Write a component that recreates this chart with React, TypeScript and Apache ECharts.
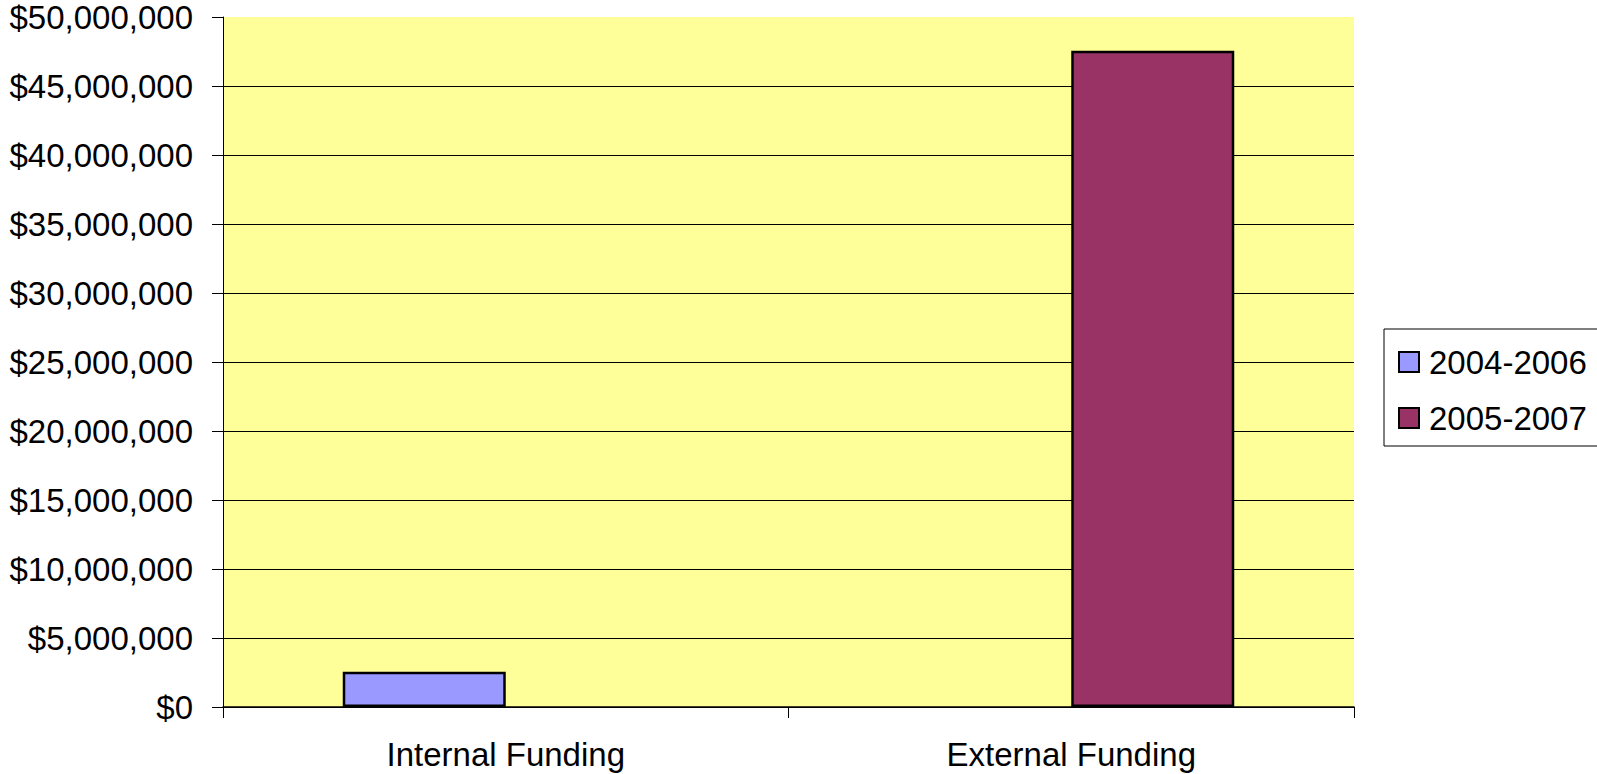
import React, { useEffect, useRef } from "react";
import * as echarts from "echarts";

const categories = ["Internal Funding", "External Funding"];
const seriesNames = ["2004-2006", "2005-2007"];
const values2004_2006 = [2550000, null];
const values2005_2007 = [null, 47550000];
const seriesColors = ["#9999FF", "#993366"];

const FONT = "'Liberation Sans', Arial, sans-serif";

export default function App() {
  const ref = useRef<HTMLDivElement>(null);

  useEffect(() => {
    if (!ref.current) return;
    const chart = echarts.init(ref.current, null, { renderer: "svg" });
    const seriesData = [values2004_2006, values2005_2007];
    chart.setOption({
      animation: false,
      backgroundColor: "#ffffff",
      textStyle: { fontFamily: FONT, color: "#000" },
      grid: {
        left: 223,
        right: 243,
        top: 17,
        bottom: 67,
        show: true,
        backgroundColor: "#FFFF99",
        borderWidth: 0,
        containLabel: false,
      },
      legend: {
        orient: "vertical",
        left: 1384,
        top: 329,
        padding: [15, 12, 10, 14],
        itemWidth: 20,
        itemHeight: 20,
        itemGap: 20,
        borderColor: "#000",
        borderWidth: 1,
        backgroundColor: "#fff",
        borderRadius: 0,
        icon: "rect",
        textStyle: {
          fontFamily: FONT,
          fontSize: 33,
          color: "#000",
          lineHeight: 36,
          padding: [0, 0, 0, 5],
        },
        data: seriesNames,
      },
      xAxis: {
        type: "category",
        data: categories,
        axisLine: { lineStyle: { color: "#000", width: 1.5 } },
        axisTick: { show: true, length: 11, interval: 0, lineStyle: { color: "#000" } },
        axisLabel: { fontFamily: FONT, fontSize: 33, color: "#000", margin: 31 },
        splitLine: { show: false },
      },
      yAxis: {
        type: "value",
        min: 0,
        max: 50000000,
        interval: 5000000,
        axisLine: { show: true, lineStyle: { color: "#000", width: 1 } },
        axisTick: { show: true, length: 11, lineStyle: { color: "#000" } },
        axisLabel: {
          fontFamily: FONT,
          fontSize: 33,
          color: "#000",
          margin: 30,
          formatter: (v: number) => "$" + v.toLocaleString("en-US"),
        },
        splitLine: { show: true, showMaxLine: false, lineStyle: { color: "#000", width: 1 } },
      },
      series: seriesNames.map((name, i) => ({
        name,
        type: "bar",
        data: seriesData[i],
        barWidth: 163,
        barGap: "0%",
        itemStyle: { color: seriesColors[i], borderColor: "#000", borderWidth: 2.5 },
      })),
    });
    return () => chart.dispose();
  }, []);

  return (
    <div
      ref={ref}
      style={{ position: "fixed", left: 0, top: 0, width: 1597, height: 774 }}
    />
  );
}
